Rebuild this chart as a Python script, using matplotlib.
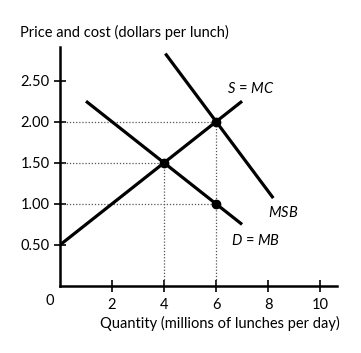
import matplotlib
matplotlib.use("Agg")
import matplotlib.pyplot as plt

plt.rcParams['font.family'] = ['Lato', 'DejaVu Sans']
plt.rcParams['mathtext.fontset'] = 'custom'
plt.rcParams['mathtext.it'] = 'Lato:italic'
plt.rcParams['mathtext.rm'] = 'Lato'

# data
supply_x = [0, 7]
supply_y = [0.5, 2.25]
demand_x = [1, 7]
demand_y = [2.25, 0.75]
msb_x = [4.05, 8.2]
msb_y = [2.83, 1.07]
points_x = [4, 6, 6]
points_y = [1.5, 2.0, 1.0]
xticks = [2, 4, 6, 8, 10]
yticks = [0.5, 1.0, 1.5, 2.0, 2.5]
ytick_labels = ["0.50", "1.00", "1.50", "2.00", "2.50"]

W, H = 361, 353
fig = plt.figure(figsize=(W/100, H/100), dpi=100)
ax = fig.add_axes([60/W, (H-286)/H, (337-60)/W, (286-47)/H])
ax.set_xlim(0, 10.65)
ax.set_ylim(0, 2.91)

for s in ['top', 'right']:
    ax.spines[s].set_visible(False)
for s in ['left', 'bottom']:
    ax.spines[s].set_linewidth(1.8)

# dotted guide lines
dot = dict(color='#555555', lw=0.9, ls=(0, (1, 1.5)))
for px, py in zip(points_x, points_y):
    ax.plot([0, px], [py, py], **dot)
for px in sorted(set(points_x)):
    ax.plot([px, px], [0, max(y for x, y in zip(points_x, points_y) if x == px)], **dot)

lw = 2.3
ax.plot(supply_x, supply_y, color='black', lw=lw, solid_capstyle='butt')
ax.plot(demand_x, demand_y, color='black', lw=lw, solid_capstyle='butt')
ax.plot(msb_x, msb_y, color='black', lw=lw, solid_capstyle='butt')
ax.plot(points_x, points_y, 'o', color='black', ms=6, zorder=5)

fs = 10.5
ax.set_xticks(xticks)
ax.set_xticklabels([str(t) for t in xticks])
ax.set_yticks(yticks)
ax.set_yticklabels(ytick_labels)
ax.tick_params(axis='both', direction='inout', length=9, width=1.2, labelsize=fs, colors='black')
ax.tick_params(axis='x', pad=4)
ax.tick_params(axis='y', pad=3)

ax.text(-0.4, -0.18, "0", ha='center', va='center', fontsize=fs)
ax.text(6.42, 2.41, "$S$ = $MC$", fontsize=fs, ha='left', va='center')
ax.text(8.0, 0.90, "$MSB$", fontsize=fs, ha='left', va='center')
ax.text(6.58, 0.56, "$D$ = $MB$", fontsize=fs, ha='left', va='center')

fig.text(20/W, 1-32/H, "Price and cost (dollars per lunch)", fontsize=fs, ha='left', va='center')
fig.text(340/W, 1-323/H, "Quantity (millions of lunches per day)", fontsize=fs, ha='right', va='center')

fig.savefig("out.png", dpi=100)
